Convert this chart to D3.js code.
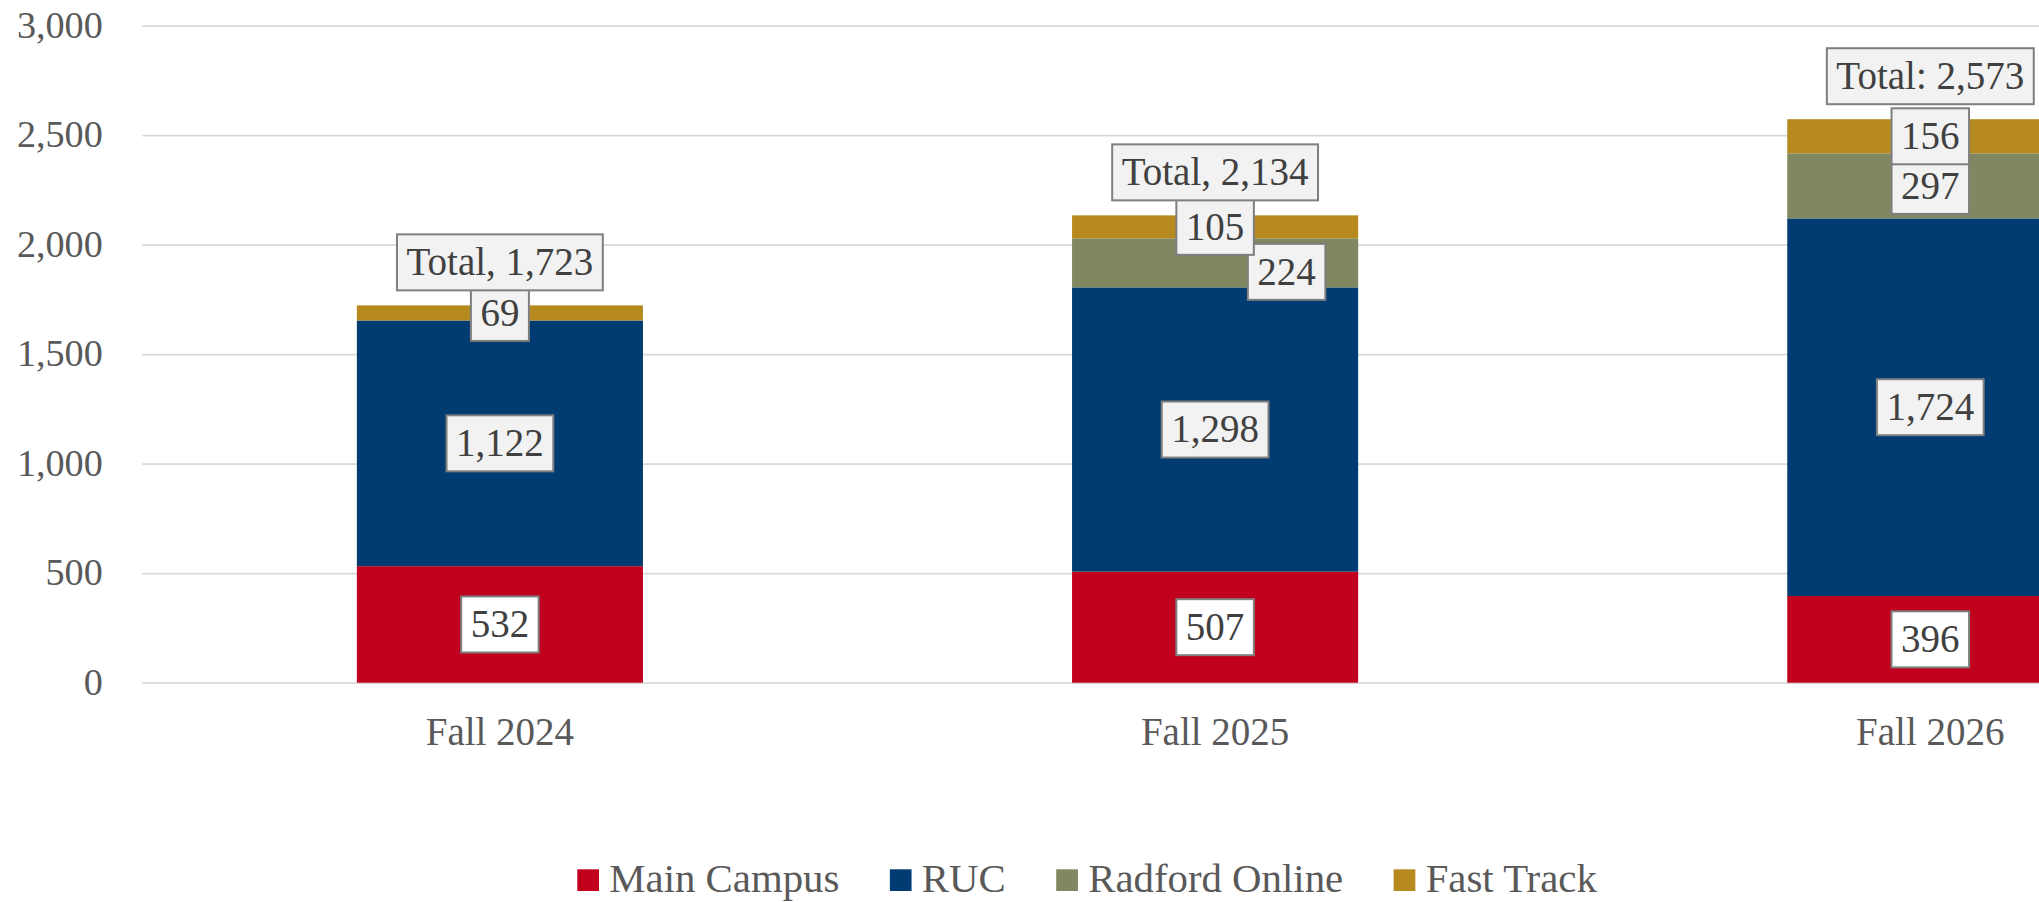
<!DOCTYPE html>
<html><head><meta charset="utf-8">
<script src="https://cdn.jsdelivr.net/npm/d3@7"></script>
<style>html,body{margin:0;padding:0;background:#fff;overflow:hidden}</style>
</head><body>
<svg id="chart" width="2039" height="902"></svg>
<script>
// ---- data ----
const categories = ["Fall 2024", "Fall 2025", "Fall 2026"];
const seriesNames = ["Main Campus", "RUC", "Radford Online", "Fast Track"];
const mainCampus = [532, 507, 396];
const ruc = [1122, 1298, 1724];
const radfordOnline = [0, 224, 297];
const fastTrack = [69, 105, 156];
const totalPrefixes = ["Total, ", "Total, ", "Total: "];
const yTicks = [0, 500, 1000, 1500, 2000, 2500, 3000];

// ---- styles ----
const colors = ["#C0001D", "#003C71", "#7F8860", "#B78A20"];
const labelFills = ["#FFFFFF", "#F2F2F2", "#F2F2F2", "#F2F2F2"];
const FONT = "'Liberation Serif', 'Times New Roman', serif";

const seriesValues = [mainCampus, ruc, radfordOnline, fastTrack];
const table = categories.map((c, i) => {
  const row = { category: c };
  seriesNames.forEach((s, k) => row[s] = seriesValues[k][i]);
  return row;
});
const stacked = d3.stack().keys(seriesNames)(table);
const totals = table.map(r => d3.sum(seriesNames, s => r[s]));

const svg = d3.select("#chart");
const x = d3.scaleBand().domain(categories).range([142.3, 2287.9]).paddingInner(0.6).paddingOuter(0.3);
const y = d3.scaleLinear().domain([0, 3000]).range([682.7, 25.7]);
const fmt = d3.format(",");

// gridlines + y tick labels
const yAxis = svg.append("g").attr("transform", `translate(${x.range()[0]},0)`)
  .call(d3.axisLeft(y).tickValues(yTicks).tickFormat(fmt).tickSize(-(x.range()[1] - x.range()[0])).tickPadding(39.5));
yAxis.select(".domain").remove();
yAxis.selectAll(".tick line").attr("stroke", "#D9D9D9").attr("stroke-width", 1.75);
yAxis.selectAll(".tick text").attr("font-family", FONT).attr("font-size", 38.2)
  .attr("fill", "#595959").attr("dy", null).attr("y", 11.7);

// x axis labels
const xAxis = svg.append("g").attr("transform", `translate(0,${y(0)})`)
  .call(d3.axisBottom(x).tickSize(0).tickPadding(0));
xAxis.select(".domain").remove();
xAxis.selectAll(".tick text").attr("font-family", FONT).attr("font-size", 39)
  .attr("fill", "#595959").attr("dy", null).attr("y", 745 - y(0));

// bars
svg.append("g").selectAll("g").data(stacked).join("g")
  .attr("fill", (d, i) => colors[i])
  .selectAll("rect").data(d => d).join("rect")
  .attr("x", d => x(d.data.category))
  .attr("width", x.bandwidth())
  .attr("y", d => y(d[1]))
  .attr("height", d => y(d[0]) - y(d[1]));

// ---- data labels ----
const LFS = 39, BOX_H = 56, PAD = 9.5;
const measurer = svg.append("text").attr("font-family", FONT).attr("font-size", LFS).attr("opacity", 0);
function textW(t) { measurer.text(t); return measurer.node().getComputedTextLength(); }

// collect labels per category, top-down, nudging a label that collides with the one above
const labelsBySeries = seriesNames.map(() => []);
const totalLabels = [];
categories.forEach((c, i) => {
  const cx0 = x(c) + x.bandwidth() / 2;
  const items = [];
  const tText = totalPrefixes[i] + fmt(totals[i]);
  items.push({ kind: "total", text: tText, cx: cx0, cy: y(totals[i]) - 43, w: textW(tText) + 2 * PAD });
  for (let k = seriesNames.length - 1; k >= 0; k--) {
    const seg = stacked[k][i];
    const v = seg[1] - seg[0];
    if (v <= 0) continue;
    const t = fmt(v);
    items.push({ kind: k, text: t, cx: cx0, cy: y((seg[0] + seg[1]) / 2), w: textW(t) + 2 * PAD });
  }
  let prev = null;
  items.forEach(it => {
    if (prev) {
      const overlap = (prev.cy + BOX_H / 2) - (it.cy - BOX_H / 2);
      if (overlap > 15) {
        it.cx = prev.cx + prev.w / 2 - 6 + it.w / 2;
        it.cy = prev.cy + BOX_H / 2 - 11 + BOX_H / 2;
      }
    }
    prev = it;
    if (it.kind === "total") totalLabels.push(it); else labelsBySeries[it.kind].push(it);
  });
});
measurer.remove();

function drawLabels(list, fill) {
  const g = svg.append("g");
  const lg = g.selectAll("g").data(list).join("g");
  lg.append("rect")
    .attr("x", d => d.cx - d.w / 2).attr("y", d => d.cy - BOX_H / 2)
    .attr("width", d => d.w).attr("height", BOX_H)
    .attr("fill", fill).attr("stroke", "#7F7F7F").attr("stroke-width", 2);
  lg.append("text")
    .attr("x", d => d.cx).attr("y", d => d.cy + 0.33 * LFS)
    .attr("text-anchor", "middle").attr("font-family", FONT).attr("font-size", LFS)
    .attr("fill", "#404040").text(d => d.text);
}
labelsBySeries.forEach((list, k) => drawLabels(list, labelFills[k]));
drawLabels(totalLabels, "#F2F2F2");

// ---- legend ----
const legend = svg.append("g");
let lx = 577.3;
seriesNames.forEach((s, k) => {
  legend.append("rect").attr("x", lx).attr("y", 869.3).attr("width", 21.7).attr("height", 21.7).attr("fill", colors[k]);
  const t = legend.append("text").attr("x", lx + 32).attr("y", 891.7)
    .attr("font-family", FONT).attr("font-size", 40.8).attr("fill", "#595959").text(s);
  lx = lx + 32 + t.node().getComputedTextLength() + 50.5;
});
</script>
</body></html>
